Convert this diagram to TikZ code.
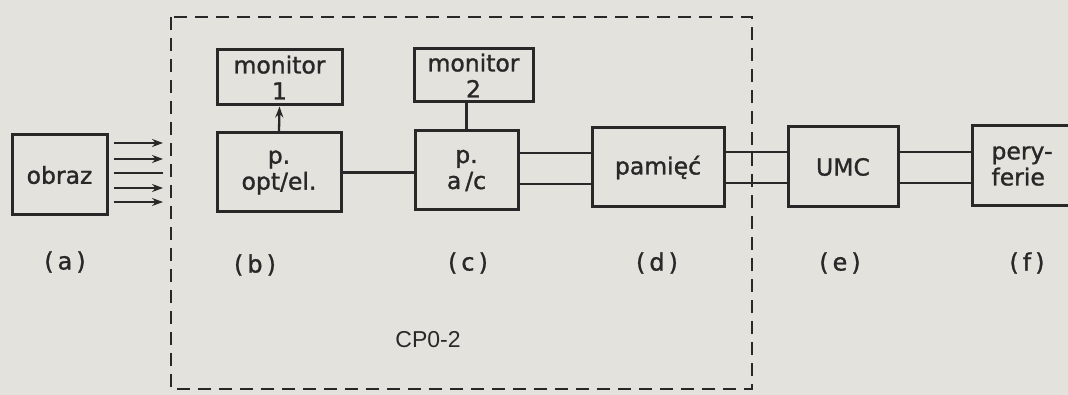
\documentclass[tikz,border=0pt]{standalone}
\usepackage{fontspec}
\setmainfont{DejaVu Sans}[FakeBold=1.2]
\newfontfamily\capfont{Liberation Sans}
\usetikzlibrary{arrows.meta}
\definecolor{paper}{RGB}{228,226,220}
\definecolor{ink}{RGB}{40,40,40}
\tikzset{
  blk/.style={draw=ink, line width=3pt, text=ink, inner sep=0pt, align=center,
    font=\fontsize{23.5}{26}\selectfont},
  conn/.style={draw=ink, line width=2.3pt},
  arr/.style={conn, -{Stealth[length=11pt,width=8pt]}},
  lbl/.style={text=ink, font=\fontsize{24}{26}\selectfont},
  grp/.style={draw=ink, line width=2.5pt, dash pattern=on 13pt off 8pt}
}
\begin{document}
\begin{tikzpicture}[x=1pt,y=-1pt]
\fill[paper] (0,0) rectangle (1068,395);
\useasboundingbox (0,0) rectangle (1068,395);
\clip (0,0) rectangle (1068,395);
% group boundary CPO-2
\draw[grp] (171,17) rectangle (752,389);
% blocks
\node[blk, minimum width=95pt, minimum height=80pt] (obraz) at (59.5,175) {obraz};
\node[blk, minimum width=125pt, minimum height=55pt] (mon1) at (279.5,77.5) {monitor\\1};
\node[blk, minimum width=124pt, minimum height=79pt] (opt) at (279,172.5) {p.\\opt/el.};
\node[blk, minimum width=119pt, minimum height=53pt] (mon2) at (473.5,75.5) {monitor\\2};
\node[blk, minimum width=103pt, minimum height=79pt] (ac) at (466.5,170.5) {p.\\a\,/c};
\node[blk, minimum width=132pt, minimum height=79pt] (pam) at (658,167.5) {pamięć};
\node[blk, minimum width=110pt, minimum height=80pt] (umc) at (843,167) {UMC};
\node[blk, minimum width=100pt, minimum height=80pt, align=left] (per) at (1022,166) {pery-\\ferie};
% free ends of input arrows at group boundary
\coordinate (in1) at (163,143);
\coordinate (in2) at (163,159);
\coordinate (in3) at (163,173);
\coordinate (in4) at (163,188);
\coordinate (in5) at (163,202);
\draw[arr] (obraz.east |- in1) ++(5,0) -- (in1);
\draw[arr] (obraz.east |- in2) ++(5,0) -- (in2);
\draw[conn] (obraz.east |- in3) ++(5,0) -- (in3);
\draw[arr] (obraz.east |- in4) ++(5,0) -- (in4);
\draw[arr] (obraz.east |- in5) ++(5,0) -- (in5);
% connectors
\draw[arr] (opt.north) -- (mon1.south);
\draw[conn] (mon2.south -| ac.north) -- (ac.north);
\draw[conn] (opt.east) -- (ac.west |- opt.east);
\draw[conn] (ac.east |- 0,153) -- (pam.west |- 0,153);
\draw[conn] (ac.east |- 0,184) -- (pam.west |- 0,184);
\draw[conn] (pam.east |- 0,152) -- (umc.west |- 0,152);
\draw[conn] (pam.east |- 0,183) -- (umc.west |- 0,183);
\draw[conn] (umc.east |- 0,152) -- (per.west |- 0,152);
\draw[conn] (umc.east |- 0,183) -- (per.west |- 0,183);
% labels
\node[lbl] (la) at (65,262) {(\,a\,)};
\node[lbl] (lb) at (255,265) {(\,b\,)};
\node[lbl] (lc) at (468,263) {(\,c\,)};
\node[lbl] (ld) at (657,263) {(\,d\,)};
\node[lbl] (le) at (840,263) {(\,e\,)};
\node[lbl] (lf) at (1027,263) {(\,f\,)};
\node[text=ink, font=\capfont\fontsize{23}{26}\selectfont] (cpo) at (428,340) {CP0-2};
\end{tikzpicture}
\end{document}
